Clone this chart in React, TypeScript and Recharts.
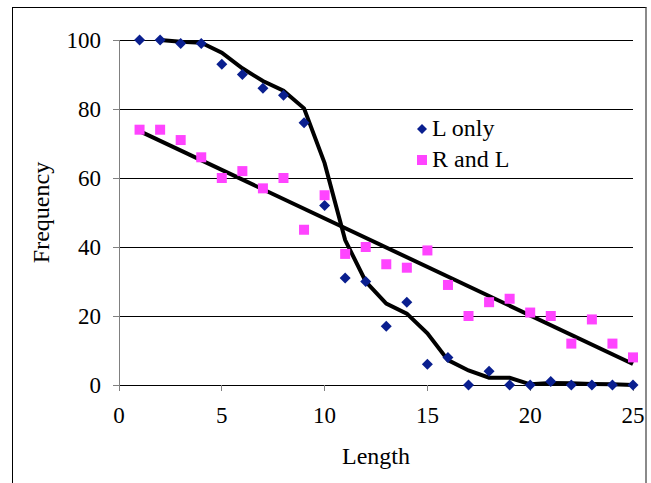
import {
  ComposedChart,
  Scatter,
  Line,
  XAxis,
  YAxis,
  CartesianGrid,
  Legend,
  Label,
} from 'recharts';

const FONT = '"Liberation Serif", "Times New Roman", serif';

const lengths = [1, 2, 3, 4, 5, 6, 7, 8, 9, 10, 11, 12, 13, 14, 15, 16, 17, 18, 19, 20, 21, 22, 23, 24, 25];
const lOnly = [100, 100, 99, 99, 93, 90, 86, 84, 76, 52, 31, 30, 17, 24, 6, 8, 0, 4, 0, 0, 1, 0, 0, 0, 0];
const rAndL = [74, 74, 71, 66, 60, 62, 57, 60, 45, 55, 38, 40, 35, 34, 39, 29, 20, 24, 25, 21, 20, 12, 19, 12, 8];
// fitted curve for "L only" (starts at length 2)
const lOnlyFit = [null, 100, 99.5, 99.2, 96.3, 91.8, 88.1, 85.3, 80.2, 64.3, 42, 30, 23.6, 20.7, 15, 7.2, 4.2, 2.1, 2.1, 0.2, 0.6, 0.5, 0.3, 0.2, 0];
// linear trend for "R and L" (end points only)
const rAndLFit = [73.6, null, null, null, null, null, null, null, null, null, null, null, null, null, null, null, null, null, null, null, null, null, null, null, 6.1];

const xTicks = [0, 5, 10, 15, 20, 25];
const yTicks = [0, 20, 40, 60, 80, 100];

const data = lengths.map((x, i) => ({
  x,
  lOnly: lOnly[i],
  rAndL: rAndL[i],
  lOnlyFit: lOnlyFit[i],
  rAndLFit: rAndLFit[i],
}));

const NAVY = '#0a1f8f';
const PINK = '#ff44ff';

const tickStyle = { fill: '#000', fontSize: 23, fontFamily: FONT, style: { fontFamily: FONT } };

const Diamond = (props: any) => {
  const { cx, cy } = props;
  if (cx == null || cy == null) return null;
  const r = 5.5;
  return <polygon points={`${cx},${cy - r} ${cx + r},${cy} ${cx},${cy + r} ${cx - r},${cy}`} fill={NAVY} />;
};

const Square = (props: any) => {
  const { cx, cy } = props;
  if (cx == null || cy == null) return null;
  return <rect x={cx - 5} y={cy - 5} width={10} height={10} fill={PINK} />;
};

const LegendBox = () => (
  <div style={{ fontFamily: FONT, fontSize: 24, color: '#000' }}>
    <div style={{ display: 'flex', alignItems: 'center', height: 31, lineHeight: '31px' }}>
      <svg width={12} height={12} style={{ marginRight: 4 }}>
        <polygon points="6,1 11,6 6,11 1,6" fill={NAVY} />
      </svg>
      <span style={{ fontFamily: FONT }}>L only</span>
    </div>
    <div style={{ display: 'flex', alignItems: 'center', height: 31, lineHeight: '31px' }}>
      <svg width={12} height={12} style={{ marginRight: 4 }}>
        <rect x={1} y={1} width={10} height={10} fill={PINK} />
      </svg>
      <span style={{ fontFamily: FONT }}>R and L</span>
    </div>
  </div>
);

export default function App() {
  return (
    <div
      style={{
        position: 'absolute',
        left: 0,
        top: 0,
        width: 651,
        height: 483,
        background: '#fff',
        overflow: 'hidden',
        fontFamily: FONT,
      }}
    >
      <div
        style={{
          position: 'absolute',
          left: 12,
          top: 7,
          width: 632,
          height: 500,
          borderLeft: '1px solid #000',
          borderTop: '1px solid #000',
          borderRight: '2px solid #8a8a8a',
        }}
      />
      <ComposedChart
        width={651}
        height={483}
        data={data}
        margin={{ top: 40, right: 18, left: 39, bottom: 18 }}
        style={{ fontFamily: FONT }}
      >
        <CartesianGrid horizontal vertical={false} stroke="#000" strokeWidth={1} shapeRendering="crispEdges" />
        <XAxis
          type="number"
          dataKey="x"
          domain={[0, 25]}
          ticks={xTicks}
          height={80}
          axisLine={{ stroke: '#000', shapeRendering: 'crispEdges' }}
          tickLine={{ stroke: '#808080', shapeRendering: 'crispEdges' }}
          tickSize={6}
          tickMargin={16}
          tick={tickStyle}
        >
          <Label value="Length" position="insideBottom" offset={1} style={{ fill: '#000', fontSize: 24, fontFamily: FONT }} />
        </XAxis>
        <YAxis
          type="number"
          domain={[0, 100]}
          ticks={yTicks}
          width={80}
          axisLine={{ stroke: '#808080', shapeRendering: 'crispEdges' }}
          tickLine={{ stroke: '#808080', shapeRendering: 'crispEdges' }}
          tickSize={6}
          tickMargin={12}
          tick={tickStyle}
        >
          <Label
            value="Frequency"
            angle={-90}
            position="insideLeft"
            offset={1}
            style={{ fill: '#000', fontSize: 24, fontFamily: FONT, textAnchor: 'middle' }}
          />
        </YAxis>
        <Legend
          layout="vertical"
          align="center"
          verticalAlign="middle"
          content={<LegendBox />}
          wrapperStyle={{ left: 416, top: 113, width: 'auto' }}
        />
        <Scatter name="L only" dataKey="lOnly" shape={<Diamond />} isAnimationActive={false} />
        <Scatter name="R and L" dataKey="rAndL" shape={<Square />} isAnimationActive={false} />
        <Line
          type="linear"
          dataKey="lOnlyFit"
          stroke="#000"
          strokeWidth={4}
          dot={false}
          connectNulls
          legendType="none"
          isAnimationActive={false}
        />
        <Line
          type="linear"
          dataKey="rAndLFit"
          stroke="#000"
          strokeWidth={4}
          dot={false}
          connectNulls
          legendType="none"
          isAnimationActive={false}
        />
      </ComposedChart>
    </div>
  );
}
